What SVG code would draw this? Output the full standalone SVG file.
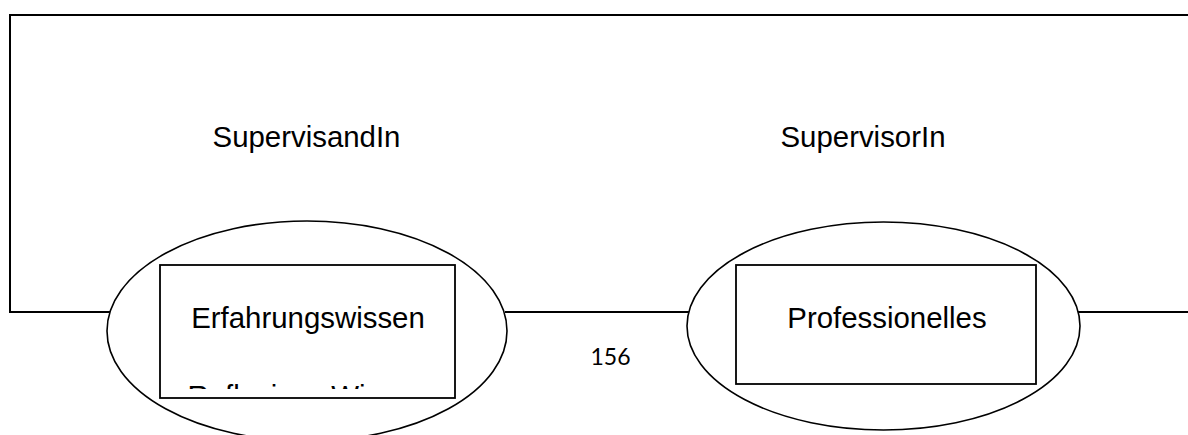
<svg xmlns="http://www.w3.org/2000/svg" width="1188" height="435" viewBox="0 0 1188 435">
<style>
.frame{fill:none;stroke:#000;stroke-width:2}
.ell{fill:#fff;stroke:#000;stroke-width:1.6}
.box{fill:#fff;stroke:#000;stroke-width:1.8}
.lbl{font-family:"Liberation Sans",Arial,sans-serif;font-size:29.4px;fill:#000;text-anchor:middle}
.num{font-family:Lato,"Open Sans",sans-serif;font-size:23px;fill:#000;text-anchor:middle}
</style>
<defs>
<clipPath id="clipRef"><rect x="160" y="265" width="295" height="124"/></clipPath>
</defs>
<g id="frame">
<polyline class="frame" points="1190,15 10,15 10,312 110,312"/>
</g>
<g id="connectors">
<line class="frame" x1="505" y1="312" x2="689" y2="312"/>
<line class="frame" x1="1078" y1="312" x2="1190" y2="312"/>
</g>
<g id="labels">
<text class="lbl" x="306.5" y="147">SupervisandIn</text>
<text class="lbl" x="863" y="147">SupervisorIn</text>
</g>
<g id="node-left">
<ellipse class="ell" cx="307" cy="331" rx="200" ry="110"/>
<rect class="box" x="160" y="265" width="295" height="133"/>
<text class="lbl" x="308" y="328">Erfahrungswissen</text>
<text class="lbl" x="307.5" y="406" clip-path="url(#clipRef)">Reflexives Wissen</text>
</g>
<g id="node-right">
<ellipse class="ell" cx="883.5" cy="326" rx="196.5" ry="104"/>
<rect class="box" x="736" y="265" width="300" height="119"/>
<text class="lbl" x="887" y="328">Professionelles</text>
</g>
<g id="page-number">
<text class="num" x="610.5" y="365">156</text>
</g>
</svg>
